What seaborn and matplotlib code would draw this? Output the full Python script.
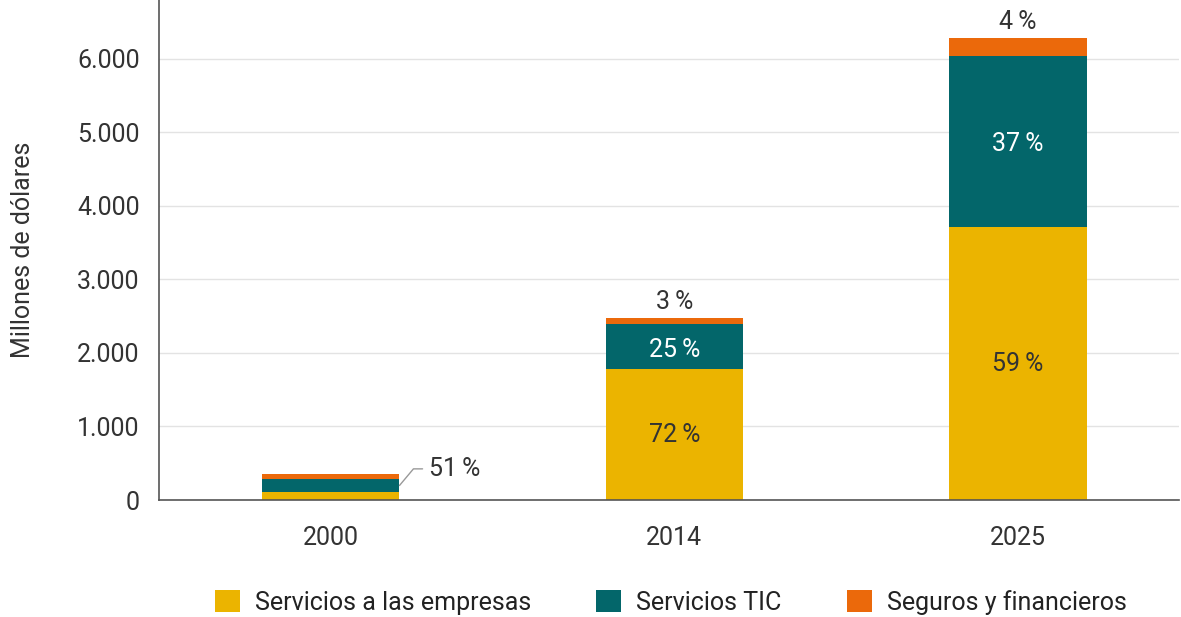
import numpy as np
import pandas as pd
import seaborn as sns
import matplotlib.pyplot as plt
from matplotlib.patches import Patch
from matplotlib.ticker import FuncFormatter

# data (millones de dólares)
years = ["2000", "2014", "2025"]
empresas = [105, 1780, 3710]
tic = [184, 610, 2330]
seguros = [71, 90, 250]
series_names = ["Servicios a las empresas", "Servicios TIC", "Seguros y financieros"]
colors = ["#EBB400", "#03666A", "#EB690B"]

pct_empresas = [None, "72\u2009%", "59\u2009%"]
pct_tic = ["51\u2009%", "25\u2009%", "37\u2009%"]
pct_seguros = [None, "3\u2009%", "4\u2009%"]

sns.set_theme(style="white")
plt.rcParams["font.family"] = ["Roboto", "DejaVu Sans"]

df = pd.DataFrame({"year": years, "empresas": empresas, "tic": tic, "seguros": seguros})
df["lvl1"] = df["empresas"]
df["lvl2"] = df["empresas"] + df["tic"]
df["lvl3"] = df["lvl2"] + df["seguros"]

fig = plt.figure(figsize=(11.81, 6.17), dpi=100)
ax = fig.add_axes([0.1346, 0.1896, 0.864, 0.8104])

ax.yaxis.grid(True, color="#e3e3e3", linewidth=1)
ax.set_axisbelow(True)

bw = 0.4
fs = 18
# stacked bars drawn as overlapping cumulative totals
for col, c in zip(["lvl3", "lvl2", "lvl1"], colors[::-1]):
    sns.barplot(data=df, x="year", y=col, color=c, width=bw, saturation=1, linewidth=0, ax=ax)

ax.set_xlim(-0.5, 2.47)
ax.set_ylim(0, 6800)
ax.set_yticks(range(0, 7000, 1000))
ax.yaxis.set_major_formatter(FuncFormatter(lambda v, p: f"{int(v):,}".replace(",", ".")))
ax.tick_params(axis="both", length=0, labelsize=fs, colors="#333333")
ax.tick_params(axis="x", pad=19)
ax.tick_params(axis="y", pad=14)
ax.set_xlabel("")
ax.set_ylabel("Millones de dólares", fontsize=fs, color="#333333", labelpad=30)
for s in ["top", "right"]:
    ax.spines[s].set_visible(False)
for s in ["left", "bottom"]:
    ax.spines[s].set_color("#555555")
    ax.spines[s].set_linewidth(1.2)

# labels
for i in range(len(years)):
    e, t, s = empresas[i], tic[i], seguros[i]
    if pct_empresas[i]:
        ax.text(i, e / 2, pct_empresas[i], ha="center", va="center", fontsize=fs, color="#333333")
    if pct_seguros[i]:
        ax.annotate(pct_seguros[i], (i, e + t + s), xytext=(0, 11), textcoords="offset points",
                    ha="center", va="center", fontsize=fs, color="#333333")
    if i == 0:
        ax.annotate(pct_tic[i], (i + bw / 2, e + t / 2), xytext=(21, 12), textcoords="offset points",
                    ha="left", va="center", fontsize=fs, color="#333333",
                    arrowprops=dict(arrowstyle="-", color="#999999", lw=1, shrinkA=2, shrinkB=0,
                                    connectionstyle="angle,angleA=180,angleB=50,rad=0"))
    else:
        ax.text(i, e + t / 2 - 40, pct_tic[i], ha="center", va="center", fontsize=fs, color="white")

handles = [Patch(facecolor=c, edgecolor="none", label=n) for c, n in zip(colors, series_names)]
fig.legend(handles=handles, loc="lower center", bbox_to_anchor=(0.568, -0.033), ncol=3, frameon=False,
           fontsize=fs, handlelength=1.0, handleheight=1.0, columnspacing=2.6, handletextpad=0.6,
           labelcolor="#222222")

fig.savefig("out.png", dpi=100)
